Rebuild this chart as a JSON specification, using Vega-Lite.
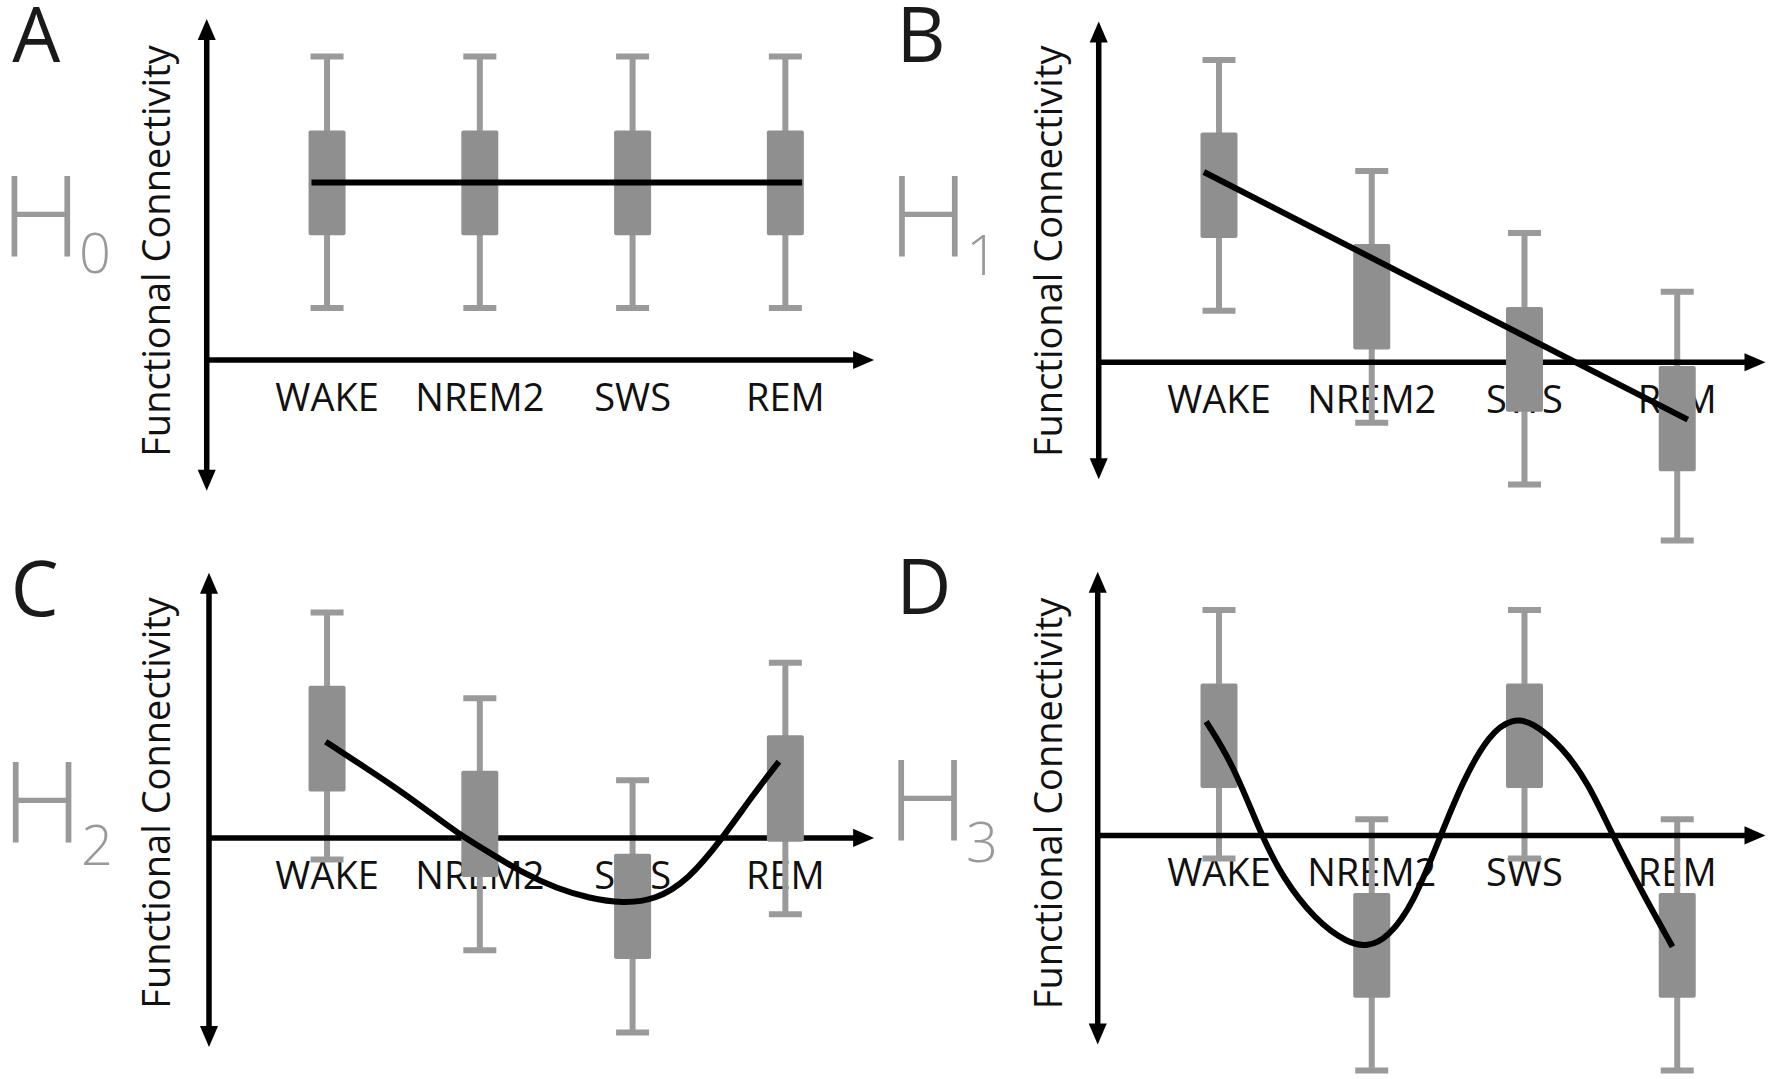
{
"$schema": "https://vega.github.io/schema/vega-lite/v6.json",
"padding": 0,
"background": "white",
"bounds": "flush",
"spacing": 0,
"columns": 2,
"config": {"view": {"stroke": null}, "axis": {"disable": true}, "font": "Open Sans"},
"datasets": {
"boxes": [
{"panel":"A","stage":"WAKE","pos":1,"lo":0.52,"q1":1.247,"q3":2.296,"hi":3.036},
{"panel":"A","stage":"NREM2","pos":2,"lo":0.52,"q1":1.247,"q3":2.296,"hi":3.036},
{"panel":"A","stage":"SWS","pos":3,"lo":0.52,"q1":1.247,"q3":2.296,"hi":3.036},
{"panel":"A","stage":"REM","pos":4,"lo":0.52,"q1":1.247,"q3":2.296,"hi":3.036},
{"panel":"B","stage":"WAKE","pos":1,"lo":0.516,"q1":1.243,"q3":2.298,"hi":3.024},
{"panel":"B","stage":"NREM2","pos":2,"lo":-0.605,"q1":0.128,"q3":1.183,"hi":1.913},
{"panel":"B","stage":"SWS","pos":3,"lo":-1.221,"q1":-0.495,"q3":0.553,"hi":1.293},
{"panel":"B","stage":"REM","pos":4,"lo":-1.782,"q1":-1.09,"q3":-0.037,"hi":0.706},
{"panel":"C","stage":"WAKE","pos":1,"lo":-0.217,"q1":0.463,"q3":1.521,"hi":2.253},
{"panel":"C","stage":"NREM2","pos":2,"lo":-1.123,"q1":-0.39,"q3":0.671,"hi":1.396},
{"panel":"C","stage":"SWS","pos":3,"lo":-1.945,"q1":-1.212,"q3":-0.158,"hi":0.577},
{"panel":"C","stage":"REM","pos":4,"lo":-0.763,"q1":-0.038,"q3":1.027,"hi":1.752},
{"panel":"D","stage":"WAKE","pos":1,"lo":-0.232,"q1":0.473,"q3":1.52,"hi":2.253},
{"panel":"D","stage":"NREM2","pos":2,"lo":-2.35,"q1":-1.624,"q3":-0.577,"hi":0.162},
{"panel":"D","stage":"SWS","pos":3,"lo":-0.232,"q1":0.473,"q3":1.52,"hi":2.253},
{"panel":"D","stage":"REM","pos":4,"lo":-2.35,"q1":-1.624,"q3":-0.577,"hi":0.162}
],
"fits": [
{"panel":"A","x":0.898,"y":1.776},{"panel":"A","x":4.11,"y":1.776},
{"panel":"B","x":0.901,"y":1.903},{"panel":"B","x":4.069,"y":-0.574},
{"panel":"C","x":0.991,"y":0.962},{"panel":"C","x":1.207,"y":0.746},{"panel":"C","x":1.423,"y":0.529},{"panel":"C","x":1.638,"y":0.296},{"panel":"C","x":1.854,"y":0.046},{"panel":"C","x":2.07,"y":-0.154},{"panel":"C","x":2.285,"y":-0.354},{"panel":"C","x":2.502,"y":-0.504},{"panel":"C","x":2.717,"y":-0.604},{"panel":"C","x":2.933,"y":-0.654},{"panel":"C","x":3.149,"y":-0.621},{"panel":"C","x":3.364,"y":-0.421},{"panel":"C","x":3.58,"y":-0.021},{"panel":"C","x":3.796,"y":0.446},{"panel":"C","x":3.958,"y":0.762},
{"panel":"D","x":0.916,"y":1.137},{"panel":"D","x":1.089,"y":0.721},{"panel":"D","x":1.272,"y":0.021},{"panel":"D","x":1.412,"y":-0.413},{"panel":"D","x":1.628,"y":-0.846},{"panel":"D","x":1.844,"y":-1.079},{"panel":"D","x":1.973,"y":-1.113},{"panel":"D","x":2.103,"y":-1.029},{"panel":"D","x":2.275,"y":-0.679},{"panel":"D","x":2.448,"y":-0.013},{"panel":"D","x":2.599,"y":0.554},{"panel":"D","x":2.772,"y":1.021},{"panel":"D","x":2.922,"y":1.171},{"panel":"D","x":3.052,"y":1.137},{"panel":"D","x":3.246,"y":0.887},{"panel":"D","x":3.419,"y":0.521},{"panel":"D","x":3.57,"y":0.021},{"panel":"D","x":3.786,"y":-0.613},{"panel":"D","x":3.969,"y":-1.113}
]
},
"concat": [
{"width": 892, "height": 554, "data": {"values": [{}]},
 "layer": [
  {"data":{"name":"boxes"},"transform":[{"filter":"datum.panel==='A'"}],"mark":{"type":"text","font":"Open Sans","fontSize":38,"color":"#111111","align":"center","baseline":"alphabetic"},"encoding":{"x":{"field":"pos","type":"quantitative","scale":{"domain":[-1.1016,4.6719],"nice":false,"zero":false}},"y":{"datum":-0.51,"scale":{"domain":[-1.94,3.6],"nice":false,"zero":false}},"text":{"field":"stage","type":"nominal"}}},
  {"data":{"name":"boxes"},"transform":[{"filter":"datum.panel==='A'"}],"mark":{"type":"rule","strokeWidth":6,"color":"#9a9a9a"},"encoding":{"x":{"field":"pos","type":"quantitative","scale":{"domain":[-1.1016,4.6719],"nice":false,"zero":false}},"y":{"field":"lo","type":"quantitative","scale":{"domain":[-1.94,3.6],"nice":false,"zero":false}},"y2":{"field":"hi"}}},
  {"data":{"name":"boxes"},"transform":[{"filter":"datum.panel==='A'"}],"mark":{"type":"tick","orient":"horizontal","size":33,"thickness":6,"color":"#9a9a9a","opacity":1},"encoding":{"x":{"field":"pos","type":"quantitative","scale":{"domain":[-1.1016,4.6719],"nice":false,"zero":false}},"y":{"field":"hi","type":"quantitative","scale":{"domain":[-1.94,3.6],"nice":false,"zero":false}}}},
  {"data":{"name":"boxes"},"transform":[{"filter":"datum.panel==='A'"}],"mark":{"type":"tick","orient":"horizontal","size":33,"thickness":6,"color":"#9a9a9a","opacity":1},"encoding":{"x":{"field":"pos","type":"quantitative","scale":{"domain":[-1.1016,4.6719],"nice":false,"zero":false}},"y":{"field":"lo","type":"quantitative","scale":{"domain":[-1.94,3.6],"nice":false,"zero":false}}}},
  {"mark":{"type":"rule","strokeWidth":5.5,"color":"black"},"encoding":{"x":{"datum":0.2123,"scale":{"domain":[-1.1016,4.6719],"nice":false,"zero":false}},"y":{"datum":-1.207,"scale":{"domain":[-1.94,3.6],"nice":false,"zero":false}},"y2":{"datum":3.31}}},
  {"mark":{"type":"rule","strokeWidth":5.5,"color":"black"},"encoding":{"x":{"datum":0.2123,"scale":{"domain":[-1.1016,4.6719],"nice":false,"zero":false}},"x2":{"datum":4.516},"y":{"datum":0,"scale":{"domain":[-1.94,3.6],"nice":false,"zero":false}}}},
  {"mark":{"type":"point","shape":"M0,0L0.86,2L-0.86,2Z","size":441,"filled":true,"color":"black","opacity":1,"strokeWidth":0},"encoding":{"x":{"datum":0.2123,"scale":{"domain":[-1.1016,4.6719],"nice":false,"zero":false}},"y":{"datum":3.41,"scale":{"domain":[-1.94,3.6],"nice":false,"zero":false}}}},
  {"mark":{"type":"point","shape":"M0,0L0.86,-2L-0.86,-2Z","size":441,"filled":true,"color":"black","opacity":1,"strokeWidth":0},"encoding":{"x":{"datum":0.2123,"scale":{"domain":[-1.1016,4.6719],"nice":false,"zero":false}},"y":{"datum":-1.307,"scale":{"domain":[-1.94,3.6],"nice":false,"zero":false}}}},
  {"mark":{"type":"point","shape":"M0,0L-2,0.86L-2,-0.86Z","size":441,"filled":true,"color":"black","opacity":1,"strokeWidth":0},"encoding":{"x":{"datum":4.581,"scale":{"domain":[-1.1016,4.6719],"nice":false,"zero":false}},"y":{"datum":0,"scale":{"domain":[-1.94,3.6],"nice":false,"zero":false}}}},
  {"data":{"name":"boxes"},"transform":[{"filter":"datum.panel==='A'"}],"mark":{"type":"bar","width":37,"color":"#8f8f8f","cornerRadius":2},"encoding":{"x":{"field":"pos","type":"quantitative","scale":{"domain":[-1.1016,4.6719],"nice":false,"zero":false}},"y":{"field":"q1","type":"quantitative","scale":{"domain":[-1.94,3.6],"nice":false,"zero":false}},"y2":{"field":"q3"}}},
  {"data":{"name":"fits"},"transform":[{"filter":"datum.panel==='A'"}],"mark":{"type":"line","strokeWidth":6,"color":"black","interpolate":"basis"},"encoding":{"x":{"field":"x","type":"quantitative","scale":{"domain":[-1.1016,4.6719],"nice":false,"zero":false}},"y":{"field":"y","type":"quantitative","scale":{"domain":[-1.94,3.6],"nice":false,"zero":false}}}},
  {"mark":{"type":"text","text":"A","font":"Open Sans","fontSize":76,"color":"#1a1a1a","align":"center","baseline":"alphabetic"},"encoding":{"x":{"datum":-0.904,"scale":{"domain":[-1.1016,4.6719],"nice":false,"zero":false}},"y":{"datum":2.983,"scale":{"domain":[-1.94,3.6],"nice":false,"zero":false}}}},
  {"mark":{"type":"text","text":"H","font":"Open Sans","fontSize":113,"fontWeight":300,"color":"#999999","align":"center","baseline":"alphabetic"},"encoding":{"x":{"datum":-0.874,"scale":{"domain":[-1.1016,4.6719],"nice":false,"zero":false}},"y":{"datum":1.033,"scale":{"domain":[-1.94,3.6],"nice":false,"zero":false}}}},
  {"mark":{"type":"text","text":"0","font":"Open Sans","fontSize":56,"fontWeight":300,"color":"#999999","align":"center","baseline":"alphabetic"},"encoding":{"x":{"datum":-0.519,"scale":{"domain":[-1.1016,4.6719],"nice":false,"zero":false}},"y":{"datum":0.87,"scale":{"domain":[-1.94,3.6],"nice":false,"zero":false}}}},
  {"mark":{"type":"text","text":"Functional Connectivity","font":"Open Sans","fontSize":38,"angle":270,"color":"#111111","align":"center","baseline":"alphabetic"},"encoding":{"x":{"datum":-0.027,"scale":{"domain":[-1.1016,4.6719],"nice":false,"zero":false}},"y":{"datum":1.09,"scale":{"domain":[-1.94,3.6],"nice":false,"zero":false}}}}
 ]},
{"width": 878, "height": 554, "data": {"values": [{}]},
 "layer": [
  {"data":{"name":"boxes"},"transform":[{"filter":"datum.panel==='B'"}],"mark":{"type":"text","font":"Open Sans","fontSize":38,"color":"#111111","align":"center","baseline":"alphabetic"},"encoding":{"x":{"field":"pos","type":"quantitative","scale":{"domain":[-1.1016,4.5812],"nice":false,"zero":false}},"y":{"datum":-0.51,"scale":{"domain":[-1.917,3.623],"nice":false,"zero":false}},"text":{"field":"stage","type":"nominal"}}},
  {"data":{"name":"boxes"},"transform":[{"filter":"datum.panel==='B'"}],"mark":{"type":"rule","strokeWidth":6,"color":"#9a9a9a"},"encoding":{"x":{"field":"pos","type":"quantitative","scale":{"domain":[-1.1016,4.5812],"nice":false,"zero":false}},"y":{"field":"lo","type":"quantitative","scale":{"domain":[-1.917,3.623],"nice":false,"zero":false}},"y2":{"field":"hi"}}},
  {"data":{"name":"boxes"},"transform":[{"filter":"datum.panel==='B'"}],"mark":{"type":"tick","orient":"horizontal","size":33,"thickness":6,"color":"#9a9a9a","opacity":1},"encoding":{"x":{"field":"pos","type":"quantitative","scale":{"domain":[-1.1016,4.5812],"nice":false,"zero":false}},"y":{"field":"hi","type":"quantitative","scale":{"domain":[-1.917,3.623],"nice":false,"zero":false}}}},
  {"data":{"name":"boxes"},"transform":[{"filter":"datum.panel==='B'"}],"mark":{"type":"tick","orient":"horizontal","size":33,"thickness":6,"color":"#9a9a9a","opacity":1},"encoding":{"x":{"field":"pos","type":"quantitative","scale":{"domain":[-1.1016,4.5812],"nice":false,"zero":false}},"y":{"field":"lo","type":"quantitative","scale":{"domain":[-1.917,3.623],"nice":false,"zero":false}}}},
  {"mark":{"type":"rule","strokeWidth":5.5,"color":"black"},"encoding":{"x":{"datum":0.2125,"scale":{"domain":[-1.1016,4.5812],"nice":false,"zero":false}},"y":{"datum":-1.069,"scale":{"domain":[-1.917,3.623],"nice":false,"zero":false}},"y2":{"datum":3.308}}},
  {"mark":{"type":"rule","strokeWidth":5.5,"color":"black"},"encoding":{"x":{"datum":0.2125,"scale":{"domain":[-1.1016,4.5812],"nice":false,"zero":false}},"x2":{"datum":4.513},"y":{"datum":0,"scale":{"domain":[-1.917,3.623],"nice":false,"zero":false}}}},
  {"mark":{"type":"point","shape":"M0,0L0.86,2L-0.86,2Z","size":441,"filled":true,"color":"black","opacity":1,"strokeWidth":0},"encoding":{"x":{"datum":0.2125,"scale":{"domain":[-1.1016,4.5812],"nice":false,"zero":false}},"y":{"datum":3.408,"scale":{"domain":[-1.917,3.623],"nice":false,"zero":false}}}},
  {"mark":{"type":"point","shape":"M0,0L0.86,-2L-0.86,-2Z","size":441,"filled":true,"color":"black","opacity":1,"strokeWidth":0},"encoding":{"x":{"datum":0.2125,"scale":{"domain":[-1.1016,4.5812],"nice":false,"zero":false}},"y":{"datum":-1.169,"scale":{"domain":[-1.917,3.623],"nice":false,"zero":false}}}},
  {"mark":{"type":"point","shape":"M0,0L-2,0.86L-2,-0.86Z","size":441,"filled":true,"color":"black","opacity":1,"strokeWidth":0},"encoding":{"x":{"datum":4.578,"scale":{"domain":[-1.1016,4.5812],"nice":false,"zero":false}},"y":{"datum":0,"scale":{"domain":[-1.917,3.623],"nice":false,"zero":false}}}},
  {"data":{"name":"boxes"},"transform":[{"filter":"datum.panel==='B'"}],"mark":{"type":"bar","width":37,"color":"#8f8f8f","cornerRadius":2},"encoding":{"x":{"field":"pos","type":"quantitative","scale":{"domain":[-1.1016,4.5812],"nice":false,"zero":false}},"y":{"field":"q1","type":"quantitative","scale":{"domain":[-1.917,3.623],"nice":false,"zero":false}},"y2":{"field":"q3"}}},
  {"data":{"name":"fits"},"transform":[{"filter":"datum.panel==='B'"}],"mark":{"type":"line","strokeWidth":6,"color":"black","interpolate":"basis"},"encoding":{"x":{"field":"x","type":"quantitative","scale":{"domain":[-1.1016,4.5812],"nice":false,"zero":false}},"y":{"field":"y","type":"quantitative","scale":{"domain":[-1.917,3.623],"nice":false,"zero":false}}}},
  {"mark":{"type":"text","text":"B","font":"Open Sans","fontSize":76,"color":"#1a1a1a","align":"center","baseline":"alphabetic"},"encoding":{"x":{"datum":-0.95,"scale":{"domain":[-1.1016,4.5812],"nice":false,"zero":false}},"y":{"datum":3.006,"scale":{"domain":[-1.917,3.623],"nice":false,"zero":false}}}},
  {"mark":{"type":"text","text":"H","font":"Open Sans","fontSize":113,"fontWeight":300,"color":"#999999","align":"center","baseline":"alphabetic"},"encoding":{"x":{"datum":-0.902,"scale":{"domain":[-1.1016,4.5812],"nice":false,"zero":false}},"y":{"datum":1.056,"scale":{"domain":[-1.917,3.623],"nice":false,"zero":false}}}},
  {"mark":{"type":"text","text":"1","font":"Open Sans","fontSize":56,"fontWeight":300,"color":"#999999","align":"center","baseline":"alphabetic"},"encoding":{"x":{"datum":-0.55,"scale":{"domain":[-1.1016,4.5812],"nice":false,"zero":false}},"y":{"datum":0.873,"scale":{"domain":[-1.917,3.623],"nice":false,"zero":false}}}},
  {"mark":{"type":"text","text":"Functional Connectivity","font":"Open Sans","fontSize":38,"angle":270,"color":"#111111","align":"center","baseline":"alphabetic"},"encoding":{"x":{"datum":-0.027,"scale":{"domain":[-1.1016,4.5812],"nice":false,"zero":false}},"y":{"datum":1.11,"scale":{"domain":[-1.917,3.623],"nice":false,"zero":false}}}}
 ]},
{"width": 892, "height": 525, "data": {"values": [{}]},
 "layer": [
  {"data":{"name":"boxes"},"transform":[{"filter":"datum.panel==='C'"}],"mark":{"type":"text","font":"Open Sans","fontSize":38,"color":"#111111","align":"center","baseline":"alphabetic"},"encoding":{"x":{"field":"pos","type":"quantitative","scale":{"domain":[-1.1016,4.6719],"nice":false,"zero":false}},"y":{"datum":-0.51,"scale":{"domain":[-2.411,2.839],"nice":false,"zero":false}},"text":{"field":"stage","type":"nominal"}}},
  {"data":{"name":"boxes"},"transform":[{"filter":"datum.panel==='C'"}],"mark":{"type":"rule","strokeWidth":6,"color":"#9a9a9a"},"encoding":{"x":{"field":"pos","type":"quantitative","scale":{"domain":[-1.1016,4.6719],"nice":false,"zero":false}},"y":{"field":"lo","type":"quantitative","scale":{"domain":[-2.411,2.839],"nice":false,"zero":false}},"y2":{"field":"hi"}}},
  {"data":{"name":"boxes"},"transform":[{"filter":"datum.panel==='C'"}],"mark":{"type":"tick","orient":"horizontal","size":33,"thickness":6,"color":"#9a9a9a","opacity":1},"encoding":{"x":{"field":"pos","type":"quantitative","scale":{"domain":[-1.1016,4.6719],"nice":false,"zero":false}},"y":{"field":"hi","type":"quantitative","scale":{"domain":[-2.411,2.839],"nice":false,"zero":false}}}},
  {"data":{"name":"boxes"},"transform":[{"filter":"datum.panel==='C'"}],"mark":{"type":"tick","orient":"horizontal","size":33,"thickness":6,"color":"#9a9a9a","opacity":1},"encoding":{"x":{"field":"pos","type":"quantitative","scale":{"domain":[-1.1016,4.6719],"nice":false,"zero":false}},"y":{"field":"lo","type":"quantitative","scale":{"domain":[-2.411,2.839],"nice":false,"zero":false}}}},
  {"mark":{"type":"rule","strokeWidth":5.5,"color":"black"},"encoding":{"x":{"datum":0.2272,"scale":{"domain":[-1.1016,4.6719],"nice":false,"zero":false}},"y":{"datum":-1.991,"scale":{"domain":[-2.411,2.839],"nice":false,"zero":false}},"y2":{"datum":2.551}}},
  {"mark":{"type":"rule","strokeWidth":5.5,"color":"black"},"encoding":{"x":{"datum":0.2272,"scale":{"domain":[-1.1016,4.6719],"nice":false,"zero":false}},"x2":{"datum":4.516},"y":{"datum":0,"scale":{"domain":[-2.411,2.839],"nice":false,"zero":false}}}},
  {"mark":{"type":"point","shape":"M0,0L0.86,2L-0.86,2Z","size":441,"filled":true,"color":"black","opacity":1,"strokeWidth":0},"encoding":{"x":{"datum":0.2272,"scale":{"domain":[-1.1016,4.6719],"nice":false,"zero":false}},"y":{"datum":2.651,"scale":{"domain":[-2.411,2.839],"nice":false,"zero":false}}}},
  {"mark":{"type":"point","shape":"M0,0L0.86,-2L-0.86,-2Z","size":441,"filled":true,"color":"black","opacity":1,"strokeWidth":0},"encoding":{"x":{"datum":0.2272,"scale":{"domain":[-1.1016,4.6719],"nice":false,"zero":false}},"y":{"datum":-2.091,"scale":{"domain":[-2.411,2.839],"nice":false,"zero":false}}}},
  {"mark":{"type":"point","shape":"M0,0L-2,0.86L-2,-0.86Z","size":441,"filled":true,"color":"black","opacity":1,"strokeWidth":0},"encoding":{"x":{"datum":4.581,"scale":{"domain":[-1.1016,4.6719],"nice":false,"zero":false}},"y":{"datum":0,"scale":{"domain":[-2.411,2.839],"nice":false,"zero":false}}}},
  {"data":{"name":"boxes"},"transform":[{"filter":"datum.panel==='C'"}],"mark":{"type":"bar","width":37,"color":"#8f8f8f","cornerRadius":2},"encoding":{"x":{"field":"pos","type":"quantitative","scale":{"domain":[-1.1016,4.6719],"nice":false,"zero":false}},"y":{"field":"q1","type":"quantitative","scale":{"domain":[-2.411,2.839],"nice":false,"zero":false}},"y2":{"field":"q3"}}},
  {"data":{"name":"fits"},"transform":[{"filter":"datum.panel==='C'"}],"mark":{"type":"line","strokeWidth":6,"color":"black","interpolate":"basis"},"encoding":{"x":{"field":"x","type":"quantitative","scale":{"domain":[-1.1016,4.6719],"nice":false,"zero":false}},"y":{"field":"y","type":"quantitative","scale":{"domain":[-2.411,2.839],"nice":false,"zero":false}}}},
  {"mark":{"type":"text","text":"C","font":"Open Sans","fontSize":76,"color":"#1a1a1a","align":"center","baseline":"alphabetic"},"encoding":{"x":{"datum":-0.914,"scale":{"domain":[-1.1016,4.6719],"nice":false,"zero":false}},"y":{"datum":2.22,"scale":{"domain":[-2.411,2.839],"nice":false,"zero":false}}}},
  {"mark":{"type":"text","text":"H","font":"Open Sans","fontSize":113,"fontWeight":300,"color":"#999999","align":"center","baseline":"alphabetic"},"encoding":{"x":{"datum":-0.865,"scale":{"domain":[-1.1016,4.6719],"nice":false,"zero":false}},"y":{"datum":-0.054,"scale":{"domain":[-2.411,2.839],"nice":false,"zero":false}}}},
  {"mark":{"type":"text","text":"2","font":"Open Sans","fontSize":56,"fontWeight":300,"color":"#999999","align":"center","baseline":"alphabetic"},"encoding":{"x":{"datum":-0.506,"scale":{"domain":[-1.1016,4.6719],"nice":false,"zero":false}},"y":{"datum":-0.271,"scale":{"domain":[-2.411,2.839],"nice":false,"zero":false}}}},
  {"mark":{"type":"text","text":"Functional Connectivity","font":"Open Sans","fontSize":38,"angle":270,"color":"#111111","align":"center","baseline":"alphabetic"},"encoding":{"x":{"datum":-0.027,"scale":{"domain":[-1.1016,4.6719],"nice":false,"zero":false}},"y":{"datum":0.35,"scale":{"domain":[-2.411,2.839],"nice":false,"zero":false}}}}
 ]},
{"width": 878, "height": 525, "data": {"values": [{}]},
 "layer": [
  {"data":{"name":"boxes"},"transform":[{"filter":"datum.panel==='D'"}],"mark":{"type":"text","font":"Open Sans","fontSize":38,"color":"#111111","align":"center","baseline":"alphabetic"},"encoding":{"x":{"field":"pos","type":"quantitative","scale":{"domain":[-1.1016,4.5812],"nice":false,"zero":false}},"y":{"datum":-0.51,"scale":{"domain":[-2.436,2.814],"nice":false,"zero":false}},"text":{"field":"stage","type":"nominal"}}},
  {"data":{"name":"boxes"},"transform":[{"filter":"datum.panel==='D'"}],"mark":{"type":"rule","strokeWidth":6,"color":"#9a9a9a"},"encoding":{"x":{"field":"pos","type":"quantitative","scale":{"domain":[-1.1016,4.5812],"nice":false,"zero":false}},"y":{"field":"lo","type":"quantitative","scale":{"domain":[-2.436,2.814],"nice":false,"zero":false}},"y2":{"field":"hi"}}},
  {"data":{"name":"boxes"},"transform":[{"filter":"datum.panel==='D'"}],"mark":{"type":"tick","orient":"horizontal","size":33,"thickness":6,"color":"#9a9a9a","opacity":1},"encoding":{"x":{"field":"pos","type":"quantitative","scale":{"domain":[-1.1016,4.5812],"nice":false,"zero":false}},"y":{"field":"hi","type":"quantitative","scale":{"domain":[-2.436,2.814],"nice":false,"zero":false}}}},
  {"data":{"name":"boxes"},"transform":[{"filter":"datum.panel==='D'"}],"mark":{"type":"tick","orient":"horizontal","size":33,"thickness":6,"color":"#9a9a9a","opacity":1},"encoding":{"x":{"field":"pos","type":"quantitative","scale":{"domain":[-1.1016,4.5812],"nice":false,"zero":false}},"y":{"field":"lo","type":"quantitative","scale":{"domain":[-2.436,2.814],"nice":false,"zero":false}}}},
  {"mark":{"type":"rule","strokeWidth":5.5,"color":"black"},"encoding":{"x":{"datum":0.206,"scale":{"domain":[-1.1016,4.5812],"nice":false,"zero":false}},"y":{"datum":-1.991,"scale":{"domain":[-2.436,2.814],"nice":false,"zero":false}},"y2":{"datum":2.536}}},
  {"mark":{"type":"rule","strokeWidth":5.5,"color":"black"},"encoding":{"x":{"datum":0.206,"scale":{"domain":[-1.1016,4.5812],"nice":false,"zero":false}},"x2":{"datum":4.513},"y":{"datum":0,"scale":{"domain":[-2.436,2.814],"nice":false,"zero":false}}}},
  {"mark":{"type":"point","shape":"M0,0L0.86,2L-0.86,2Z","size":441,"filled":true,"color":"black","opacity":1,"strokeWidth":0},"encoding":{"x":{"datum":0.206,"scale":{"domain":[-1.1016,4.5812],"nice":false,"zero":false}},"y":{"datum":2.636,"scale":{"domain":[-2.436,2.814],"nice":false,"zero":false}}}},
  {"mark":{"type":"point","shape":"M0,0L0.86,-2L-0.86,-2Z","size":441,"filled":true,"color":"black","opacity":1,"strokeWidth":0},"encoding":{"x":{"datum":0.206,"scale":{"domain":[-1.1016,4.5812],"nice":false,"zero":false}},"y":{"datum":-2.091,"scale":{"domain":[-2.436,2.814],"nice":false,"zero":false}}}},
  {"mark":{"type":"point","shape":"M0,0L-2,0.86L-2,-0.86Z","size":441,"filled":true,"color":"black","opacity":1,"strokeWidth":0},"encoding":{"x":{"datum":4.578,"scale":{"domain":[-1.1016,4.5812],"nice":false,"zero":false}},"y":{"datum":0,"scale":{"domain":[-2.436,2.814],"nice":false,"zero":false}}}},
  {"data":{"name":"boxes"},"transform":[{"filter":"datum.panel==='D'"}],"mark":{"type":"bar","width":37,"color":"#8f8f8f","cornerRadius":2},"encoding":{"x":{"field":"pos","type":"quantitative","scale":{"domain":[-1.1016,4.5812],"nice":false,"zero":false}},"y":{"field":"q1","type":"quantitative","scale":{"domain":[-2.436,2.814],"nice":false,"zero":false}},"y2":{"field":"q3"}}},
  {"data":{"name":"fits"},"transform":[{"filter":"datum.panel==='D'"}],"mark":{"type":"line","strokeWidth":6,"color":"black","interpolate":"basis"},"encoding":{"x":{"field":"x","type":"quantitative","scale":{"domain":[-1.1016,4.5812],"nice":false,"zero":false}},"y":{"field":"y","type":"quantitative","scale":{"domain":[-2.436,2.814],"nice":false,"zero":false}}}},
  {"mark":{"type":"text","text":"D","font":"Open Sans","fontSize":76,"color":"#1a1a1a","align":"center","baseline":"alphabetic"},"encoding":{"x":{"datum":-0.933,"scale":{"domain":[-1.1016,4.5812],"nice":false,"zero":false}},"y":{"datum":2.211,"scale":{"domain":[-2.436,2.814],"nice":false,"zero":false}}}},
  {"mark":{"type":"text","text":"H","font":"Open Sans","fontSize":113,"fontWeight":300,"color":"#999999","align":"center","baseline":"alphabetic"},"encoding":{"x":{"datum":-0.908,"scale":{"domain":[-1.1016,4.5812],"nice":false,"zero":false}},"y":{"datum":-0.056,"scale":{"domain":[-2.436,2.814],"nice":false,"zero":false}}}},
  {"mark":{"type":"text","text":"3","font":"Open Sans","fontSize":56,"fontWeight":300,"color":"#999999","align":"center","baseline":"alphabetic"},"encoding":{"x":{"datum":-0.551,"scale":{"domain":[-1.1016,4.5812],"nice":false,"zero":false}},"y":{"datum":-0.27,"scale":{"domain":[-2.436,2.814],"nice":false,"zero":false}}}},
  {"mark":{"type":"text","text":"Functional Connectivity","font":"Open Sans","fontSize":38,"angle":270,"color":"#111111","align":"center","baseline":"alphabetic"},"encoding":{"x":{"datum":-0.027,"scale":{"domain":[-1.1016,4.5812],"nice":false,"zero":false}},"y":{"datum":0.32,"scale":{"domain":[-2.436,2.814],"nice":false,"zero":false}}}}
 ]}
]
}
